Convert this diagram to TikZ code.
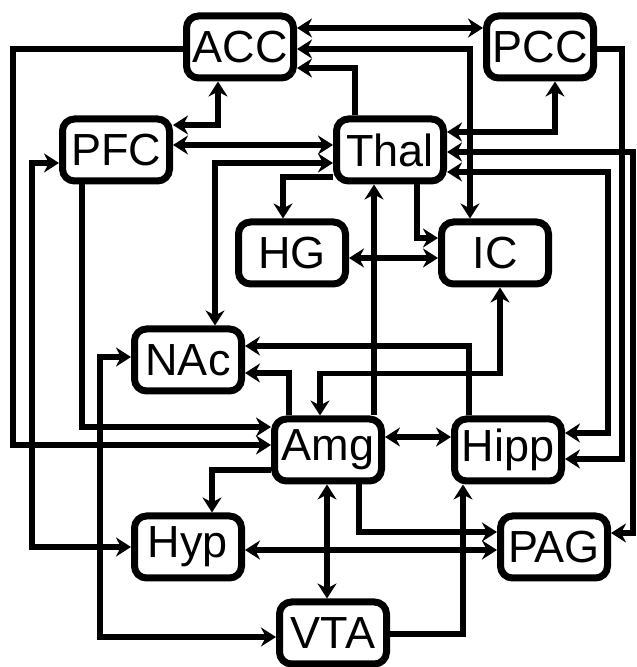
\documentclass[tikz,border=0pt]{standalone}
\usepackage{fontspec}
\setmainfont{Liberation Sans}
\usetikzlibrary{arrows.meta}
\begin{document}
\begin{tikzpicture}[x=1pt, y=1pt, >={Stealth[length=15pt, width=19pt]}]

\useasboundingbox (0,0) rectangle (637,667);

% styles
\pgfkeys{/region/.style={draw, line width=7pt, rounded corners=12pt, minimum width=107pt, minimum height=62pt, inner sep=0, font=\fontsize{45}{45}\selectfont}} % brain regions
\pgfkeys{/link/.style={line width=5.5pt}} % connections

% brain regions
\foreach \name/\x/\y in {ACC/240/620, PCC/540/620, PFC/116/517, Thal/390/517, HG/292/414, IC/495/414,
  NAc/188/307, Amg/328/217, Hipp/508/217, Hyp/188/120, PAG/554/120, VTA/333/34} {
\node[/region] (\name) at (\x,\y) {\name};
}

% top row
\draw[/link, <->] ([yshift=19pt]ACC.east) -- ([yshift=19pt]PCC.west);
\draw[/link, <->] ([yshift=-2pt]ACC.east) -| ([xshift=-25pt]IC.north);
\draw[/link, ->] ([xshift=-35pt]Thal.north) |- ([yshift=-21pt]ACC.east);
\draw[/link, ->] ([yshift=-2pt]ACC.west) -- ++(-170,0) |- ([yshift=5pt]Amg.west);
\draw[/link, ->] ([yshift=-2pt]PCC.east) -- ++(25,0) |- ([yshift=-9pt]Hipp.east);

% PFC
\draw[/link, <->] ([yshift=25pt]PFC.east) -| ([xshift=-22pt]ACC.south);
\draw[/link, <->] ([yshift=5pt]PFC.east) -- ([yshift=5pt]Thal.west);
\draw[/link, ->] ([xshift=-34pt]PFC.south) |- ([yshift=23pt]Amg.west);
\draw[/link, <->] ([yshift=-13pt]PFC.west) -- ++(-27,0) |- (Hyp.west);

% Thal
\draw[/link, <->] ([xshift=27pt]NAc.north) |- ([yshift=-13pt]Thal.west);
\draw[/link, ->] ([yshift=-27pt]Thal.west) -| ([xshift=-9pt]HG.north);
\draw[/link, ->] ([xshift=27pt]Thal.south) |- ([yshift=15pt]IC.west);
\draw[/link, <->] ([yshift=18pt]Thal.east) -| ([xshift=15pt]PCC.south);
\draw[/link, <->] ([yshift=-2pt]Thal.east) -- ++(186,0) |- ([yshift=14pt]PAG.east);
\draw[/link, <->] ([yshift=-22pt]Thal.east) -- ++(161,0) |- ([yshift=17pt]Hipp.east);
\draw[/link, <->] ([yshift=-5pt]HG.east) -- ([yshift=-5pt]IC.west);

% Amg and below
\draw[/link, ->] ([xshift=46pt]Amg.north) -- ([xshift=-16pt]Thal.south);
\draw[/link, ->] ([xshift=-39pt]Hipp.north) |- ([yshift=14pt]NAc.east);
\draw[/link, ->] ([xshift=-39pt]Amg.north) |- ([yshift=-13pt]NAc.east);
\draw[/link, <->] ([xshift=5pt]IC.south) -- ++(0,-86) -| ([xshift=-8pt]Amg.north);
\draw[/link, <->] ([yshift=13pt]Amg.east) -- ([yshift=13pt]Hipp.west);
\draw[/link, ->] ([yshift=-20pt]Amg.west) -| ([xshift=24pt]Hyp.north);
\draw[/link, <->] ([xshift=-1pt]Amg.south) -- ([xshift=-6pt]VTA.north);
\draw[/link, ->] ([xshift=31pt]Amg.south) |- ([yshift=15pt]PAG.west);
\draw[/link, <->] ([yshift=3pt]NAc.west) -- ++(-31,0) |- ([yshift=-4pt]VTA.west);
\draw[/link, <->] ([yshift=-3pt]Hyp.east) -- ([yshift=-3pt]PAG.west);
\draw[/link, ->] ([yshift=-1pt]VTA.east) -| ([xshift=-45pt]Hipp.south);

\end{tikzpicture}
\end{document}
